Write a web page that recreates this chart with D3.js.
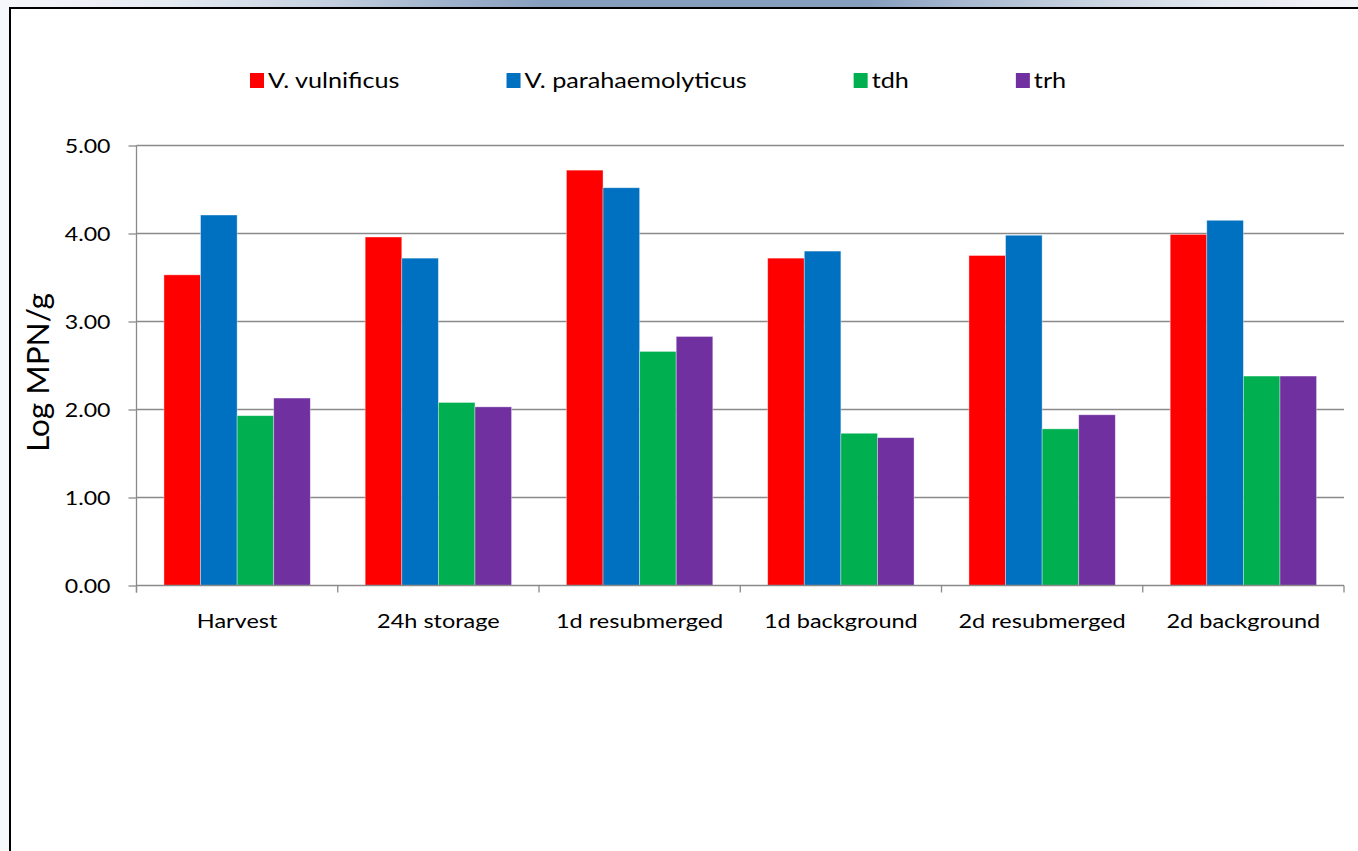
<!DOCTYPE html>
<html>
<head>
<meta charset="utf-8">
<script src="https://cdn.jsdelivr.net/npm/d3@7"></script>
<style>
  html, body { margin: 0; padding: 0; background: #f6f8fb; }
  svg { display: block; }
  text { font-family: Lato, "Open Sans", sans-serif; fill: #000; }
</style>
</head>
<body>
<svg id="chart" width="1358" height="851"></svg>
<script>
// Sampling stages along the x axis
const categories = ["Harvest", "24h storage", "1d resubmerged", "1d background", "2d resubmerged", "2d background"];
// Series names (legend order)
const seriesNames = ["V. vulnificus", "V. parahaemolyticus", "tdh", "trh"];
const seriesColors = ["#ff0000", "#0070c0", "#00b050", "#7030a0"];
// Log MPN/g per stage, one array per series
const vulnificus       = [3.53, 3.96, 4.72, 3.72, 3.75, 3.99];
const parahaemolyticus = [4.21, 3.72, 4.52, 3.80, 3.98, 4.15];
const tdh              = [1.93, 2.08, 2.66, 1.73, 1.78, 2.38];
const trh              = [2.13, 2.03, 2.83, 1.68, 1.94, 2.38];
const yTicks = [0, 1, 2, 3, 4, 5];
const yLabel = "Log MPN/g";

const seriesValues = [vulnificus, parahaemolyticus, tdh, trh];
const rows = categories.map((c, i) => ({
  category: c,
  values: seriesNames.map((s, j) => ({ series: s, color: seriesColors[j], value: seriesValues[j][i] }))
}));

const svg = d3.select("#chart");
const W = 1358, H = 851;

// Page background: light strip with a blue band across the top
const defs = svg.append("defs");
const band = defs.append("linearGradient").attr("id", "topBand").attr("x1", "0").attr("x2", "1");
[[0, "#f5f7fa"], [0.12, "#e6ebf2"], [0.24, "#c5d1e0"], [0.33, "#9fb2cb"], [0.4, "#879fbf"],
 [0.64, "#869ebe"], [0.7, "#a3b5cd"], [0.8, "#c8d3e1"], [0.9, "#e4e9f0"], [1, "#f3f5f8"]]
  .forEach(([o, c]) => band.append("stop").attr("offset", o).attr("stop-color", c));
svg.append("rect").attr("width", W).attr("height", H).attr("fill", "#f6f8fb");
svg.append("rect").attr("width", W).attr("height", 8).attr("fill", "url(#topBand)");

// Chart frame (runs off the right and bottom edges)
svg.append("rect").attr("x", 10).attr("y", 8).attr("width", W + 20).attr("height", H + 20)
  .attr("fill", "#fff").attr("stroke", "#000").attr("stroke-width", 2);

const plot = { left: 136.5, right: 1344, top: 145.5, bottom: 585.5 };

// Category bands, and series slots inside each band (gap of 1.5 bar widths between groups)
const x0 = d3.scaleBand().domain(categories).range([plot.left, plot.right]).paddingInner(0).paddingOuter(0);
const x1 = d3.scaleBand().domain(seriesNames).range([0, x0.bandwidth()]).paddingInner(0).paddingOuter(0.75);
const y = d3.scaleLinear().domain([0, 5]).range([plot.bottom, plot.top]);

// Horizontal gridlines
svg.append("g").selectAll("line").data(yTicks.filter(t => t > 0)).join("line")
  .attr("x1", plot.left).attr("x2", plot.right)
  .attr("y1", d => y(d)).attr("y2", d => y(d))
  .attr("stroke", "#8a8a8a").attr("stroke-width", 1.3);

// Bars
const groups = svg.append("g").selectAll("g").data(rows).join("g")
  .attr("transform", d => `translate(${x0(d.category)},0)`);
groups.selectAll("rect").data(d => d.values).join("rect")
  .attr("x", d => x1(d.series))
  .attr("width", x1.bandwidth())
  .attr("y", d => y(d.value))
  .attr("height", d => y(0) - y(d.value))
  .attr("fill", d => d.color)
  .attr("stroke", "rgba(255,255,255,0.45)").attr("stroke-width", 0.8);

// Stretch text horizontally by a factor
function stretch(sel, k) {
  sel.each(function () {
    const w = this.getComputedTextLength();
    d3.select(this).attr("textLength", w * k).attr("lengthAdjust", "spacingAndGlyphs");
  });
}

// Y axis
const yAxis = d3.axisLeft(y).tickValues(yTicks).tickFormat(d3.format(".2f")).tickSize(8).tickPadding(18);
const gy = svg.append("g").attr("transform", `translate(${plot.left},0)`).call(yAxis);
gy.select(".domain").attr("d", `M0,${plot.top}V${plot.bottom + 7}`).attr("stroke", "#8a8a8a").attr("stroke-width", 1.3);
gy.selectAll(".tick line").attr("stroke", "#8a8a8a").attr("stroke-width", 1.3);
gy.selectAll(".tick text").attr("font-family", "Lato").attr("font-size", 18.5).attr("fill", "#000").attr("dy", "0.36em");
stretch(gy.selectAll(".tick text"), 1.25);

// X axis with ticks at category boundaries
const boundaries = categories.map(c => x0(c)).concat([plot.right]);
const gx = svg.append("g");
gx.append("line").attr("x1", plot.left).attr("x2", plot.right).attr("y1", plot.bottom).attr("y2", plot.bottom)
  .attr("stroke", "#8a8a8a").attr("stroke-width", 1.3);
gx.selectAll("line.tk").data(boundaries).join("line").attr("class", "tk")
  .attr("x1", d => d).attr("x2", d => d).attr("y1", plot.bottom).attr("y2", plot.bottom + 7)
  .attr("stroke", "#8a8a8a").attr("stroke-width", 1.3);
const xl = gx.selectAll("text").data(categories).join("text")
  .attr("x", d => x0(d) + x0.bandwidth() / 2).attr("y", 628)
  .attr("text-anchor", "middle").attr("font-size", 18.5).text(d => d);
stretch(xl, 1.27);

// Y axis title
const yt = svg.append("text").attr("transform", `translate(49,372.5) rotate(-90)`)
  .attr("text-anchor", "middle").attr("font-size", 30).text(yLabel);
yt.attr("textLength", 159).attr("lengthAdjust", "spacingAndGlyphs");

// Legend: swatch + label, fixed gap after each label
const lg = svg.append("g");
let lx = 250;
seriesNames.forEach((s, i) => {
  lg.append("rect").attr("x", lx).attr("y", 73).attr("width", 14).attr("height", 15).attr("fill", seriesColors[i]);
  const t = lg.append("text").attr("x", lx + 18).attr("y", 88).attr("font-size", 21).text(s);
  stretch(t, 1.2);
  const w = +t.attr("textLength");
  lx = lx + 18 + w + 107;
});
</script>
</body>
</html>
